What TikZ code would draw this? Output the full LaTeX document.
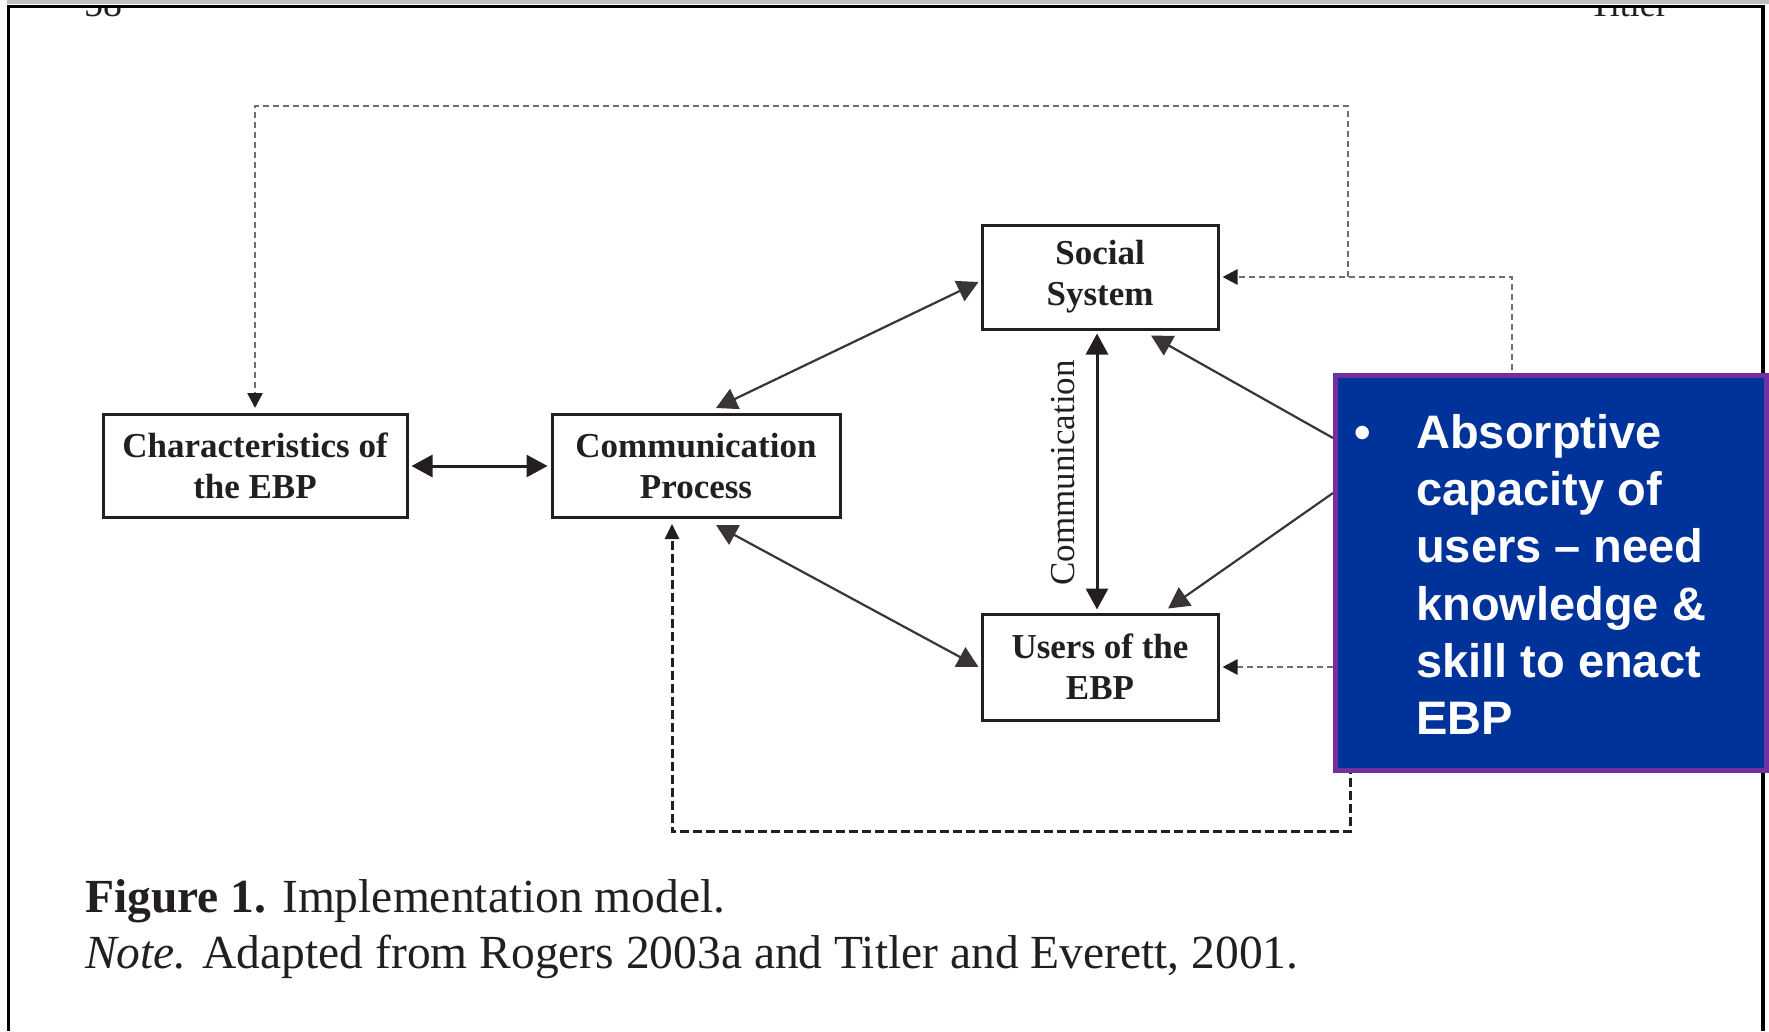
\documentclass[tikz,border=0pt]{standalone}
\usepackage{fontspec}
\setmainfont{Liberation Serif}
\newfontfamily\calloutfont{Liberation Sans}
\usetikzlibrary{arrows.meta,calc}

\pgfdeclarelayer{back}
\pgfsetlayers{back,main}

\definecolor{ink}{HTML}{231F20}
\definecolor{dashgray}{HTML}{6E6E6E}
\definecolor{calloutblue}{HTML}{003399}
\definecolor{calloutpurple}{HTML}{7030A0}

\tikzset{
  modelbox/.style={draw=ink, line width=3pt, minimum width=239pt, minimum height=107pt,
    inner sep=0pt, align=center, text=ink, font=\fontsize{35}{41}\selectfont\bfseries},
  solidlink/.style={draw=ink, line width=3pt},
  thinlink/.style={draw=ink!90, line width=2.2pt},
  twoway/.style={<->, >={Triangle[length=21pt,width=22pt]}},
  oneway/.style={->, >={Triangle[length=21pt,width=22pt]}},
  greydash/.style={draw=dashgray, line width=2.6pt, dash pattern=on 6pt off 4pt,
    ->, >={Triangle[length=15pt,width=15pt,color=ink]}},
  blackdash/.style={draw=ink, line width=3pt, dash pattern=on 9pt off 4pt,
    ->, >={Triangle[length=15pt,width=14pt]}},
  plaintext/.style={inner sep=0pt, text=ink}
}

\begin{document}
\begin{tikzpicture}[x=1pt,y=-1pt]
\useasboundingbox (0,0) rectangle (1769,1031);

% running head, cut by the top of the page frame
\begin{scope}
  \clip (0,8) rectangle (1769,30);
  \node[plaintext, anchor=base west, font=\fontsize{38}{38}\selectfont] (folio) at (84,16) {58};
  \node[plaintext, anchor=base west, font=\fontsize{36}{36}\selectfont] (runhead) at (1589,16) {Titler};
\end{scope}

% page frame
\draw[black!25, line width=4pt] (7,2) -- (1769,2);
\draw[black, line width=3.5pt] (8.5,1031) -- (8.5,6.5) -- (1763,6.5) -- (1763,1031);

% model boxes
\node[modelbox, minimum width=304pt, minimum height=103pt] (ebp) at (255,466) {Characteristics of\\the EBP};
\node[modelbox, minimum width=288pt, minimum height=103pt] (comm) at (696,466) {Communication\\Process};
\node[modelbox, minimum width=236pt, minimum height=104pt] (social) at (1100,277) {Social\\System};
\node[modelbox, minimum width=236pt, minimum height=106pt] (users) at (1100,667) {Users of the\\EBP};

\node[plaintext, rotate=90, font=\fontsize{35}{41}\selectfont] (commlabel) at (1063,473) {Communication};

% callout
\node[fill=calloutblue, draw=calloutpurple, line width=5pt, minimum width=431pt,
  minimum height=395pt, inner sep=0pt] (callout) at (1551,573) {};
\node[inner sep=0pt, anchor=base, text=white, font=\calloutfont\fontsize{47}{57.3}\selectfont\bfseries]
  (bullet) at (1363,448) {•};
\node[inner sep=0pt, anchor=north west, align=left, text=white,
  font=\calloutfont\fontsize{47}{57.3}\selectfont\bfseries]
  (callouttext) at (1416,414) {Absorptive\\capacity of\\users – need\\knowledge \&\\skill to enact\\EBP};

% caption
\node[plaintext, anchor=base west, font=\fontsize{47.5}{50}\selectfont] (figcap) at (85,912)
  {\textbf{Figure 1.} Implementation model.};
\node[plaintext, anchor=base west, font=\fontsize{47.5}{50}\selectfont] (figsrc) at (85,968)
  {\textit{Note.} Adapted from Rogers 2003a and Titler and Everett, 2001.};

% connectors, kept underneath the boxes and the callout
\coordinate (topline) at (0,106);
\coordinate (loopline) at (0,831.5);
\coordinate (feedjoin) at (1348,277);
\coordinate (sidefeed) at (1512,450);
\coordinate (loopstart) at (1350.5,700);
\coordinate (loopend) at ($(comm.south)+(-24,0)$);

\begin{pgfonlayer}{back}
  \fill[white] (0,0) rectangle (1769,1031);
  \draw[solidlink, twoway, shorten <=3pt, shorten >=3pt] (ebp) -- (comm);
  \draw[thinlink, twoway] ($(comm.north)+(20,-5)$) -- ($(social.west)+(-2,5)$);
  \draw[thinlink, twoway] ($(comm.south)+(20,6)$) -- ($(users.west)+(-2,0)$);
  \draw[solidlink, twoway, shorten <=3pt, shorten >=3pt] ($(social.south)+(-3,0)$) -- ($(users.north)+(-3,0)$);
  \draw[thinlink, oneway] ($(callout.north west)+(0,65)$) -- ($(social.south)+(51,5)$);
  \draw[thinlink, oneway] ($(callout.north west)+(0,120)$) -- ($(users.north)+(68,-4)$);

  \draw[greydash, shorten >=5pt] (feedjoin) -- (feedjoin |- topline) -- (ebp.north |- topline) -- (ebp.north);
  \draw[greydash, shorten >=3pt] (sidefeed) -- (sidefeed |- social.east) -- (social.east);
  \draw[greydash, shorten >=3pt] ($(callout.west |- users.east)+(30,0)$) -- (users.east);
  \draw[blackdash, shorten >=5pt] (loopstart) -- (loopstart |- loopline) -- (loopend |- loopline) -- (loopend);
\end{pgfonlayer}
\end{tikzpicture}
\end{document}
